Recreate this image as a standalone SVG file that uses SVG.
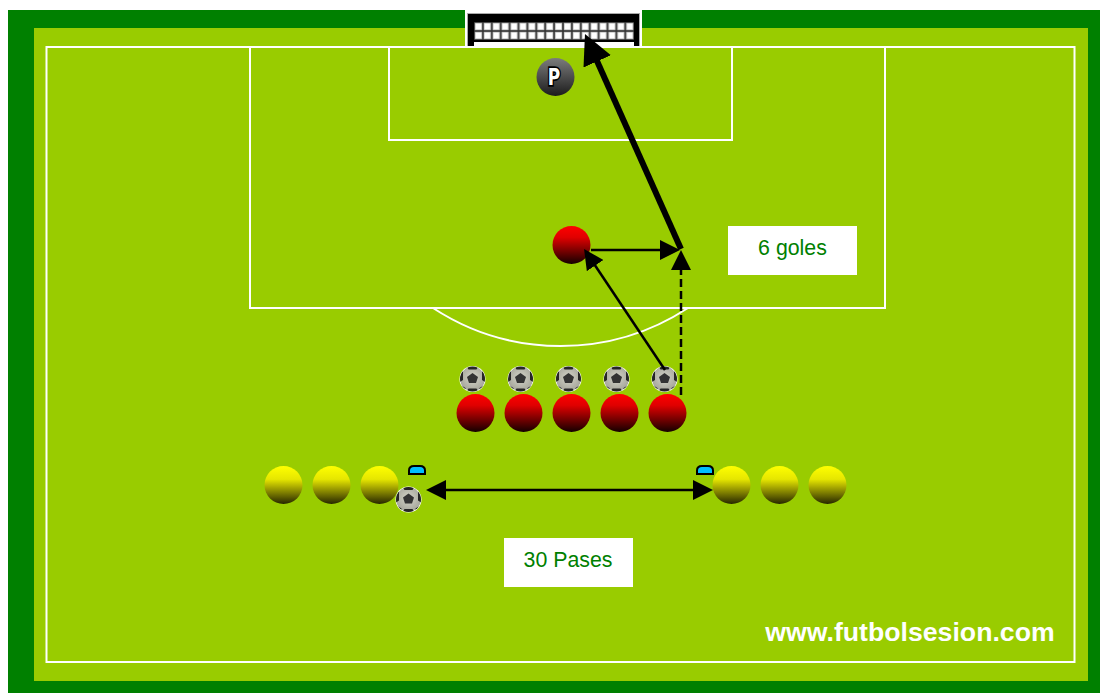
<svg xmlns="http://www.w3.org/2000/svg" width="1100" height="693" viewBox="0 0 1100 693">
<style>
.ln{fill:none;stroke:#fff;stroke-width:2}
.lbl{font-family:"Liberation Sans",Arial,sans-serif;font-size:21.330px;fill:#008000;text-anchor:middle}
.ar{fill:none;stroke:#000;stroke-width:2.500}
.box{fill:#fff}
.r{fill:url(#red)}.y{fill:url(#yel)}
</style>
<defs>
<linearGradient id="red" x1="0" y1="0" x2="0" y2="1"><stop offset="0" stop-color="#f00"/><stop offset=".3" stop-color="#e00000"/><stop offset="1" stop-color="#140000"/></linearGradient>
<linearGradient id="yel" x1="0" y1="0" x2="0" y2="1"><stop offset="0" stop-color="#ff0"/><stop offset=".35" stop-color="#e6e600"/><stop offset="1" stop-color="#262600"/></linearGradient>
<linearGradient id="gk" x1="0" y1="0" x2="0" y2="1"><stop offset="0" stop-color="#7c7c7c"/><stop offset="1" stop-color="#1c1c1c"/></linearGradient>
<radialGradient id="bg" cx=".5" cy=".45" r=".6"><stop offset="0" stop-color="#d4d4c8"/><stop offset="1" stop-color="#a0a096"/></radialGradient>
<clipPath id="ballclip"><circle r="12.500"/></clipPath>
<marker id="h" viewBox="0 0 20 20" refX="10" refY="10" markerWidth="20" markerHeight="20" markerUnits="userSpaceOnUse" orient="auto-start-reverse"><path d="M0 0L20 10L0 20Z"/></marker>
<marker id="H" viewBox="0 0 30 30" refX="15" refY="15" markerWidth="30" markerHeight="30" markerUnits="userSpaceOnUse" orient="auto"><path d="M0 0L30 15L0 30Z"/></marker>
<pattern id="net" x="474" y="22" width="8.900" height="9" patternUnits="userSpaceOnUse"><rect width="8.900" height="9" fill="#333"/><rect x=".8" y=".8" width="7.300" height="7.400" fill="#bbb"/><rect x="1.600" y="1.600" width="5.700" height="5.800" fill="#fff"/></pattern>
<g id="ball">
<circle r="13" fill="#fff"/>
<g clip-path="url(#ballclip)">
<circle r="12.500" fill="url(#bg)"/>
<path d="M0-6L5.500-2L3.500 4H-3.500L-5.500-2Z" fill="#333"/>
<path d="M-6-13H6L4-9.500H-4ZM-14-6L-9.500-8L-9.500 1L-14 4ZM14-6L9.500-8L9.500 1L14 4ZM-6 13L-4 9.500H4L6 13ZM-12 6L-7 9L-7 13ZM12 6L7 9L7 13Z" fill="#262626"/>
</g>
</g>
<g id="cone"><path d="M1 9V5.500Q1 1 6 1H12Q17 1 17 5.500V9Z" fill="#00bfff" stroke="#000" stroke-width="2"/></g>
</defs>
<g id="pitch">
<rect width="1100" height="693" fill="#fff"/>
<rect x="8" y="10" width="1092" height="683" fill="#008000"/>
<rect x="34" y="28" width="1054" height="653" fill="#9c0"/>
<rect x="46.500" y="47" width="1028" height="615" class="ln"/>
<rect x="250" y="47" width="635" height="261" class="ln"/>
<rect x="389" y="47" width="343" height="93" class="ln"/>
<path d="M433 308A233 233 0 0 0 688 308" class="ln"/>
</g>
<g id="goal">
<rect x="465" y="10" width="177" height="36" fill="#fff"/>
<rect x="467.500" y="13.500" width="172" height="33" fill="#000" stroke="#aaa"/>
<rect x="474" y="22" width="160" height="18" fill="url(#net)"/>
<rect x="474" y="42" width="160" height="5" fill="#fff"/>
<rect x="440" y="46" width="220" height="2" fill="#fff"/>
</g>
<g id="keeper">
<circle cx="555.500" cy="77" r="19" fill="url(#gk)"/>
<text transform="translate(554 84.500) scale(.85 1.150)" font-family="'DejaVu Sans','Liberation Sans',sans-serif" font-size="20" font-weight="bold" text-anchor="middle" fill="#fff" stroke="#000" stroke-width="3" paint-order="stroke">P</text>
</g>
<g id="red-runner"><circle class="r" cx="571.500" cy="245" r="19"/></g>
<g id="balls">
<use href="#ball" x="472.500" y="379"/>
<use href="#ball" x="520.500" y="379"/>
<use href="#ball" x="568.500" y="379"/>
<use href="#ball" x="616.500" y="379"/>
<use href="#ball" x="664.500" y="379"/>
</g>
<g id="red-row">
<circle class="r" cx="475.500" cy="413" r="19"/>
<circle class="r" cx="523.500" cy="413" r="19"/>
<circle class="r" cx="571.500" cy="413" r="19"/>
<circle class="r" cx="619.500" cy="413" r="19"/>
<circle class="r" cx="667.500" cy="413" r="19"/>
</g>
<g id="yellow-left">
<circle class="y" cx="283.500" cy="485" r="19"/>
<circle class="y" cx="331.500" cy="485" r="19"/>
<circle class="y" cx="379.500" cy="485" r="19"/>
</g>
<g id="yellow-right">
<circle class="y" cx="731.500" cy="485" r="19"/>
<circle class="y" cx="779.500" cy="485" r="19"/>
<circle class="y" cx="827.500" cy="485" r="19"/>
</g>
<g id="cones">
<use href="#cone" x="408" y="465"/>
<use href="#cone" x="696" y="465"/>
</g>
<use id="ball-start" href="#ball" x="408.500" y="499.500"/>
<g id="connectors">
<path d="M681 249L591.100 47.700" fill="none" stroke="#000" stroke-width="6" marker-end="url(#H)"/>
<path d="M591 250H670" class="ar" marker-end="url(#h)"/>
<path d="M665 370L589.600 257.300" class="ar" marker-end="url(#h)"/>
<path d="M681 395V260" class="ar" stroke-dasharray="8 4" marker-end="url(#h)"/>
<path d="M436 490H703" class="ar" marker-start="url(#h)" marker-end="url(#h)"/>
</g>
<g id="label-goles"><rect class="box" x="728" y="226" width="129" height="49"/><text class="lbl" x="792.500" y="255">6 goles</text></g>
<g id="label-pases"><rect class="box" x="504" y="538" width="129" height="49"/><text class="lbl" x="568" y="567">30 Pases</text></g>
<text id="site" x="910" y="641" font-family="'Liberation Sans',Arial,sans-serif" font-size="26.670" font-weight="bold" fill="#fff" text-anchor="middle">www.futbolsesion.com</text>
</svg>
